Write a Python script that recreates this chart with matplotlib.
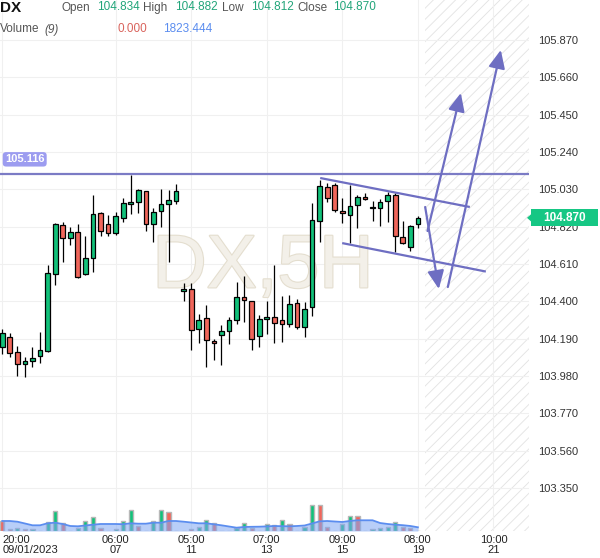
import matplotlib
matplotlib.use("Agg")
import matplotlib.pyplot as plt
import matplotlib.transforms as mtransforms
from matplotlib.patches import Rectangle, Polygon
from matplotlib import patheffects

plt.rcParams['font.family'] = ['Liberation Sans', 'DejaVu Sans']
plt.rcParams['hatch.linewidth'] = 0.6

# 5H candles, DX
opens = [104.142, 104.198, 104.114, 104.046, 104.066, 104.095, 104.123, 104.556, 104.828, 104.755,
         104.789, 104.552, 104.642, 104.895, 104.834, 104.783, 104.867, 104.949, 104.961, 105.019,
         104.838, 104.907, 104.946, 104.963, 104.457, 104.468, 104.243, 104.305, 104.176, 104.209,
         104.232, 104.294, 104.423, 104.401, 104.204, 104.303, 104.312, 104.294, 104.271, 104.389,
         104.254, 104.367, 104.850, 105.042, 105.053, 104.907, 104.884, 104.940, 104.985, 104.924,
         104.924, 104.963, 104.997, 104.760, 104.704, 104.834]
closes = [104.224, 104.111, 104.046, 104.063, 104.080, 104.125, 104.558, 104.835, 104.755, 104.789,
          104.539, 104.642, 104.890, 104.794, 104.783, 104.879, 104.952, 104.957, 105.025, 104.834,
          104.901, 104.946, 104.969, 105.019, 104.470, 104.237, 104.297, 104.181, 104.164, 104.232,
          104.294, 104.423, 104.406, 104.190, 104.303, 104.312, 104.277, 104.271, 104.384, 104.254,
          104.356, 104.856, 105.047, 104.980, 104.912, 104.895, 104.935, 104.985, 104.974, 104.929,
          104.957, 104.997, 104.766, 104.727, 104.822, 104.870]
highs = [104.243, 104.221, 104.151, 104.089, 104.145, 104.226, 104.606, 104.843, 104.845, 104.817,
         104.835, 104.766, 104.997, 104.904, 104.884, 104.901, 104.980, 105.109, 105.032, 105.022,
         104.924, 105.030, 105.026, 105.059, 104.502, 104.502, 104.327, 104.381, 104.190, 104.267,
         104.311, 104.507, 104.541, 104.402, 104.322, 104.401, 104.606, 104.432, 104.434, 104.412,
         104.395, 104.952, 105.081, 105.064, 105.064, 104.980, 105.053, 104.997, 105.008, 104.963,
         104.974, 105.014, 105.008, 104.850, 104.828, 104.882]
lows = [104.104, 104.086, 103.982, 103.976, 104.033, 104.055, 104.117, 104.491, 104.623, 104.715,
        104.532, 104.548, 104.564, 104.769, 104.769, 104.773, 104.845, 104.890, 104.899, 104.798,
        104.732, 104.817, 104.620, 104.946, 104.404, 104.125, 104.164, 104.029, 104.070, 104.041,
        104.159, 104.271, 104.286, 104.125, 104.142, 104.215, 104.164, 104.170, 104.258, 104.243,
        104.198, 104.316, 104.732, 104.957, 104.901, 104.839, 104.727, 104.811, 104.969, 104.850,
        104.822, 104.845, 104.676, 104.725, 104.682, 104.812]

volumes = [4900, 1130, 1480, 1130, 1130, 0, 4440, 9860, 3800, 0,
           1630, 4780, 6750, 1480, 0, 1130, 4780, 10200, 2320, 0,
           4780, 10200, 9370, 0, 0, 840, 1820, 5280, 4190, 0,
           0, 1630, 3940, 1480, 0, 3300, 2960, 5420, 3600, 0,
           1820, 12670, 12670, 1970, 0, 3300, 7400, 7400, 0, 1130,
           1480, 1970, 4440, 1970, 1630, 0]
vol_dir = "RRGRGRGGRG" "GGGRGGGGRG" "GGRGRRGGRG" "GGGRGGRGRG" "GGRRGGGRGG" "GGGRRG"
vol_ma = [4930, 4930, 4580, 3700, 2810, 2810, 3800, 4090, 3450, 2470,
          2320, 2710, 3110, 3450, 3450, 3450, 3350, 3800, 3600, 3600,
          4090, 4090, 4930, 4930, 4580, 4190, 3800, 3800, 3300, 2810,
          2220, 1630, 1970, 2070, 2120, 2270, 2470, 2370, 2320, 2470,
          2710, 3700, 4780, 4930, 4680, 4440, 4930, 5280, 5280, 5280,
          3940, 3450, 3110, 2860, 2470, 1823]

price_ticks = [103.350, 103.560, 103.770, 103.980, 104.190, 104.400, 104.610,
               104.820, 105.030, 105.240, 105.450, 105.660, 105.870]
time_pos = [0, 15, 25, 35, 45, 55, 65]
time_labels = ["20:00\n09/01/2023", "06:00\n07", "05:00\n11", "07:00\n13",
               "09:00\n15", "08:00\n19", "10:00\n21"]

level = 105.116
last_price = 104.870
# drawings: (x0, y0, x1, y1) in bar index / price
channel_lines = [(42.07, 105.094, 61.87, 104.931), (44.98, 104.728, 63.99, 104.568)]
arrows = [(55.96, 104.931, 57.77, 104.470), (56.27, 104.796, 60.68, 105.572),
          (58.96, 104.481, 65.97, 105.814)]

green = '#12c17a'
red = '#f0665b'
draw_col = '#6e6ec2'

fig = plt.figure(figsize=(6, 5.58), dpi=100)
ax = fig.add_axes([0, 27 / 558, 529 / 600, 531 / 558])
vax = ax.twinx()  # volume overlay; create first, twinx resets tick side

ax.set_xlim(-0.3, 69.7)
ax.set_ylim(103.109, 106.095)
for a in (ax, vax):
    for s in a.spines.values():
        s.set_visible(False)

ax.set_axisbelow(True)
ax.grid(True, color='#f0f0f0', lw=0.8)
ax.yaxis.tick_right()
ax.set_yticks(price_ticks, [f"{v:.3f}" for v in price_ticks])
ax.set_xticks(time_pos, time_labels)
ax.tick_params(axis='y', which='both', left=False, right=False, labelleft=False,
               labelright=True, pad=3, labelsize=8, labelcolor='#333333')
ax.tick_params(axis='x', length=0, pad=3, labelsize=8, labelcolor='#222222')
for t in ax.get_xticklabels():
    t.set_linespacing(1.0)
ax.get_xticklabels()[0].set_horizontalalignment('left')

# future zone
ax.add_patch(Rectangle((55.9, 103.109), 69.7 - 55.9, 106.095 - 103.109, facecolor='none',
                       edgecolor='#e2e2e2', hatch='///', lw=0, zorder=0.5))

ax.text(34.49, 104.479, "DX,5H", fontsize=54, color='#f3f0e9', ha='center', va='baseline',
        zorder=1, path_effects=[patheffects.withStroke(linewidth=1.6, foreground='#e4decf')])

for i in range(len(opens)):
    o, h, l, c = opens[i], highs[i], lows[i], closes[i]
    col = green if c >= o else red
    ax.vlines(i, l, h, color='black', lw=0.9, zorder=3)
    ax.add_patch(Rectangle((i - 0.31, min(o, c)), 0.62, max(abs(c - o), 0.004),
                           facecolor=col, edgecolor='black', lw=0.9, zorder=4))

ax.axhline(level, color='#7b7bc5', lw=1.6, zorder=5)
ax.text(2.97, 105.199, f"{level:.3f}", fontsize=8, fontweight='bold', color='white',
        ha='center', va='center', zorder=6,
        bbox=dict(boxstyle='round,pad=0.2,rounding_size=0.3', fc='#9c9cf0', ec='none'))

for x0, y0, x1, y1 in channel_lines:
    ax.plot([x0, x1], [y0, y1], color=draw_col, lw=1.6, zorder=5, solid_capstyle='butt')
for x0, y0, x1, y1 in arrows:
    ax.annotate('', xy=(x1, y1), xytext=(x0, y0), zorder=5,
                arrowprops=dict(arrowstyle='-|>,head_length=1.1,head_width=0.5',
                                color=draw_col, lw=1.6, shrinkA=0, shrinkB=0))

# last price tag
trans = mtransforms.blended_transform_factory(ax.transAxes, ax.transData)
hh = 8.5 * 0.005624
ax.add_patch(Rectangle((531 / 529, last_price - hh), 67 / 529, 2 * hh, transform=trans,
                       facecolor='#16c784', edgecolor='none', clip_on=False, zorder=10))
ax.add_patch(Polygon([(531 / 529, last_price - 0.02), (527 / 529, last_price),
                      (531 / 529, last_price + 0.02)], closed=True, transform=trans,
                     facecolor='#16c784', edgecolor='none', clip_on=False, zorder=10))
ax.text(564.5 / 529, last_price, f"{last_price:.3f}", transform=trans, fontsize=8.5,
        fontweight='bold', color='white', ha='center', va='center', zorder=11, clip_on=False)

# volume
vax.set_ylim(0, 531 * 493)
vax.set_yticks([])
vax.tick_params(axis='both', length=0, labelright=False, labelleft=False)
xs = list(range(len(volumes)))
vcols = [green if d == 'G' else red for d in vol_dir]
vax.bar(xs, volumes, width=0.55, color=vcols, edgecolor='#b8b8b8', lw=1.0, zorder=1)
vax.fill_between(xs, vol_ma, color='#7fa7f3', alpha=0.55, lw=0, zorder=2)
vax.plot(xs, vol_ma, color='#5b8def', lw=1.3, zorder=3)

# header
def hdr(x, y, s, **kw):
    fig.text(x / 600, 1 - y / 558, s, va='center', ha='left', **kw)

hdr(0, 7.5, "DX", fontsize=11, fontweight='bold', color='#111111')
hdr(62, 8, "Open", fontsize=8.5, color='#555555')
hdr(97, 7, "104.834", fontsize=8.5, color='#22a57a')
hdr(143, 8, "High", fontsize=8.5, color='#555555')
hdr(175, 7, "104.882", fontsize=8.5, color='#22a57a')
hdr(222, 8, "Low", fontsize=8.5, color='#555555')
hdr(251, 7, "104.812", fontsize=8.5, color='#22a57a')
hdr(297, 8, "Close", fontsize=8.5, color='#555555')
hdr(333, 7, "104.870", fontsize=8.5, color='#22a57a')
hdr(0, 29.5, "Volume", fontsize=8.5, color='#555555')
hdr(44, 29.5, "(9)", fontsize=8.5, color='#555555', style='italic')
hdr(117, 29.5, "0.000", fontsize=8.5, color='#d9635c')
hdr(163, 29.5, "1823.444", fontsize=8.5, color='#5b8def')

fig.savefig("out.png", dpi=100)
